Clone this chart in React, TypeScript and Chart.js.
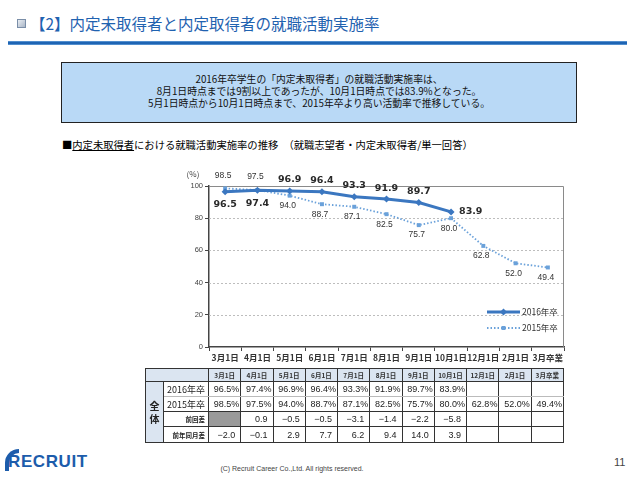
import React, { useEffect, useRef } from 'react';
import { Chart, registerables } from 'chart.js';

Chart.register(...registerables);

const categories = ['3月1日', '4月1日', '5月1日', '6月1日', '7月1日', '8月1日', '9月1日', '10月1日', '12月1日', '2月1日', '3月卒業'];
const series2016: (number | null)[] = [96.5, 97.4, 96.9, 96.4, 93.3, 91.9, 89.7, 83.9, null, null, null];
const series2015: (number | null)[] = [98.5, 97.5, 94.0, 88.7, 87.1, 82.5, 75.7, 80.0, 62.8, 52.0, 49.4];
const diffPrev: (number | null)[] = [null, 0.9, -0.5, -0.5, -3.1, -1.4, -2.2, -5.8, null, null, null];
const diffYear: (number | null)[] = [-2.0, -0.1, 2.9, 7.7, 6.2, 9.4, 14.0, 3.9, null, null, null];
const seriesNames = ['2016年卒', '2015年卒'];
const labelPos2016 = ['below', 'below', 'above', 'above', 'above', 'above', 'above', 'right'];
const labelPos2015 = ['above', 'above', 'below', 'below', 'below', 'below', 'below', 'below', 'below', 'below', 'below'];
const yMin = 0;
const yMax = 100;
const yStep = 20;

const C2016 = '#3b77c0';
const C2015 = '#6aa1da';
const JP = '"Noto Sans CJK JP", "Noto Sans", sans-serif';

const fmtPct = (v: number | null) => (v == null ? '' : v.toFixed(1) + '%');
const fmtDiff = (v: number | null) => (v == null ? '' : (v < 0 ? '−' + Math.abs(v).toFixed(1) : v.toFixed(1)));

const decorPlugin = {
  id: 'decor',
  beforeDatasetsDraw(chart: any) {
    const { ctx, chartArea: a, scales } = chart;
    const y = scales.y;
    ctx.save();
    ctx.strokeStyle = '#bdbdbd';
    ctx.lineWidth = 1;
    ctx.setLineDash([2, 2]);
    for (let v = yMin + yStep; v < yMax; v += yStep) {
      const py = Math.round(y.getPixelForValue(v)) + 0.5;
      ctx.beginPath();
      ctx.moveTo(a.left, py);
      ctx.lineTo(a.right, py);
      ctx.stroke();
    }
    ctx.setLineDash([]);
    ctx.strokeStyle = '#8a8a8a';
    ctx.beginPath();
    ctx.moveTo(a.left, a.top + 0.5);
    ctx.lineTo(a.right - 0.5, a.top + 0.5);
    ctx.lineTo(a.right - 0.5, a.bottom);
    ctx.stroke();
    ctx.fillStyle = '#444';
    ctx.font = '8px ' + JP;
    ctx.textAlign = 'center';
    ctx.textBaseline = 'middle';
    ctx.fillText('(%)', a.left - 16, a.top - 12);
    ctx.restore();
  },
  afterDatasetsDraw(chart: any) {
    const { ctx, chartArea: a } = chart;
    ctx.save();
    const m16 = chart.getDatasetMeta(0);
    const m15 = chart.getDatasetMeta(1);
    ctx.textBaseline = 'middle';
    m16.data.forEach((pt: any, i: number) => {
      const v = series2016[i];
      if (v == null) return;
      const pos = labelPos2016[i];
      ctx.font = 'bold 9.5px "DejaVu Sans", sans-serif';
      ctx.fillStyle = '#2a2a2a';
      if (pos === 'right') {
        ctx.textAlign = 'left';
        ctx.fillText(v.toFixed(1), pt.x + 8, pt.y);
      } else {
        ctx.textAlign = 'center';
        ctx.fillText(v.toFixed(1), pt.x, pos === 'above' ? pt.y - 11 : pt.y + 13);
      }
    });
    m15.data.forEach((pt: any, i: number) => {
      const v = series2015[i];
      if (v == null) return;
      const pos = labelPos2015[i];
      ctx.font = '8.5px "Liberation Sans", Arial, sans-serif';
      ctx.fillStyle = '#333';
      ctx.textAlign = 'center';
      ctx.fillText(v.toFixed(1), pt.x - 2, pos === 'above' ? pt.y - 13 : pt.y + 10);
    });
    // legend
    const lx = a.right - 77;
    const ly1 = a.bottom - 35;
    const ly2 = a.bottom - 19;
    ctx.lineWidth = 3;
    ctx.strokeStyle = C2016;
    ctx.beginPath();
    ctx.moveTo(lx, ly1);
    ctx.lineTo(lx + 33, ly1);
    ctx.stroke();
    ctx.fillStyle = C2016;
    ctx.beginPath();
    ctx.moveTo(lx + 16.5, ly1 - 3.5);
    ctx.lineTo(lx + 20, ly1);
    ctx.lineTo(lx + 16.5, ly1 + 3.5);
    ctx.lineTo(lx + 13, ly1);
    ctx.closePath();
    ctx.fill();
    ctx.lineWidth = 1.8;
    ctx.strokeStyle = C2015;
    ctx.setLineDash([1.5, 2]);
    ctx.beginPath();
    ctx.moveTo(lx, ly2);
    ctx.lineTo(lx + 33, ly2);
    ctx.stroke();
    ctx.setLineDash([]);
    ctx.fillStyle = C2015;
    ctx.fillRect(lx + 14.5, ly2 - 2, 4, 4);
    ctx.fillStyle = '#333';
    ctx.font = '8.5px ' + JP;
    ctx.textAlign = 'left';
    ctx.fillText(seriesNames[0], lx + 35, ly1);
    ctx.fillText(seriesNames[1], lx + 35, ly2);
    ctx.restore();
  },
};

function LineChart() {
  const ref = useRef<HTMLCanvasElement | null>(null);
  useEffect(() => {
    if (!ref.current) return;
    const chart = new Chart(ref.current, {
      type: 'line',
      data: {
        labels: categories,
        datasets: [
          {
            label: seriesNames[0],
            data: series2016,
            borderColor: C2016,
            backgroundColor: C2016,
            borderWidth: 3,
            pointStyle: 'rectRot',
            pointRadius: 3.5,
            pointBorderWidth: 0,
            spanGaps: false,
            order: 0,
          },
          {
            label: seriesNames[1],
            data: series2015,
            borderColor: C2015,
            backgroundColor: C2015,
            borderWidth: 1.8,
            borderDash: [1.5, 2],
            pointStyle: 'rect',
            pointRadius: 2.8,
            pointBorderWidth: 0,
            order: 1,
          },
        ],
      },
      options: {
        responsive: false,
        maintainAspectRatio: false,
        animation: false,
        devicePixelRatio: 1,
        layout: { padding: { left: 0, top: 26, right: 16, bottom: 0 } },
        plugins: { legend: { display: false }, tooltip: { enabled: false }, title: { display: false } },
        scales: {
          x: {
            type: 'category',
            offset: true,
            grid: { offset: true, drawOnChartArea: false, drawTicks: true, tickLength: 4, color: '#444' },
            border: { display: true, color: '#444', width: 1.5 },
            ticks: {
              autoSkip: false,
              maxRotation: 0,
              minRotation: 0,
              padding: 2,
              color: '#333',
              font: { size: 8.5, weight: 'bold', family: JP },
            },
            afterFit: (s: any) => { s.height = 23; },
          },
          y: {
            min: yMin,
            max: yMax,
            grid: { drawOnChartArea: false, drawTicks: true, tickLength: 4, color: '#444' },
            border: { display: true, color: '#444', width: 1.5 },
            ticks: {
              stepSize: yStep,
              padding: 2,
              color: '#444',
              font: { size: 7.5, family: '"Liberation Sans", Arial, sans-serif' },
            },
            afterFit: (s: any) => { s.width = 59; },
          },
        },
      },
      plugins: [decorPlugin],
    } as any);
    return () => chart.destroy();
  }, []);
  return (
    <canvas
      ref={ref}
      width={430}
      height={210}
      style={{ position: 'absolute', left: 150, top: 160, width: 430, height: 210 }}
    />
  );
}

const colW = 355 / 11;

function DataTable() {
  const border = '1px solid #333';
  const light = '1px solid #bbb';
  const hdrBg = '#dbe5f1';
  const cellBase: React.CSSProperties = {
    padding: 0,
    fontFamily: '"Liberation Sans", Arial, ' + JP,
    fontSize: 9,
    color: '#222',
    overflow: 'hidden',
    whiteSpace: 'nowrap',
  };
  return (
    <table
      style={{
        position: 'absolute',
        left: 145,
        top: 368,
        borderCollapse: 'collapse',
        tableLayout: 'fixed',
        width: 18 + 45 + 355,
        border: '1.5px solid #222',
      }}
    >
      <colgroup>
        <col style={{ width: 18 }} />
        <col style={{ width: 45 }} />
        {categories.map((c) => (
          <col key={c} style={{ width: colW }} />
        ))}
      </colgroup>
      <tbody>
        <tr style={{ height: 13 }}>
          <td colSpan={2} style={{ ...cellBase, background: hdrBg, border }} />
          {categories.map((c) => (
            <td
              key={c}
              style={{ ...cellBase, background: hdrBg, border, fontSize: 6.5, fontWeight: 'bold', fontFamily: JP, textAlign: 'center', color: '#333' }}
            >
              {c}
            </td>
          ))}
        </tr>
        <tr style={{ height: 15 }}>
          <td
            rowSpan={4}
            style={{ ...cellBase, background: hdrBg, border, fontFamily: JP, fontWeight: 'bold', fontSize: 10, textAlign: 'center', lineHeight: '13px', whiteSpace: 'normal', color: '#222' }}
          >
            全<br />体
          </td>
          <td style={{ ...cellBase, border, borderBottom: light, fontFamily: JP, textAlign: 'right', paddingRight: 3 }}>{seriesNames[0]}</td>
          {series2016.map((v, i) => (
            <td key={i} style={{ ...cellBase, border, borderBottom: light, textAlign: 'right', paddingRight: 1 }}>
              {fmtPct(v)}
            </td>
          ))}
        </tr>
        <tr style={{ height: 15 }}>
          <td style={{ ...cellBase, border, borderTop: light, fontFamily: JP, textAlign: 'right', paddingRight: 3 }}>{seriesNames[1]}</td>
          {series2015.map((v, i) => (
            <td key={i} style={{ ...cellBase, border, borderTop: light, textAlign: 'right', paddingRight: 1 }}>
              {fmtPct(v)}
            </td>
          ))}
        </tr>
        <tr style={{ height: 15 }}>
          <td style={{ ...cellBase, border, fontFamily: JP, fontSize: 6.5, fontWeight: 'bold', textAlign: 'right', paddingRight: 3 }}>前回差</td>
          {diffPrev.map((v, i) => (
            <td
              key={i}
              style={{ ...cellBase, border, textAlign: 'right', paddingRight: 5, background: i === 0 ? '#9a9a9a' : 'transparent' }}
            >
              {fmtDiff(v)}
            </td>
          ))}
        </tr>
        <tr style={{ height: 16 }}>
          <td style={{ ...cellBase, border, fontFamily: JP, fontSize: 6.5, fontWeight: 'bold', textAlign: 'right', paddingRight: 3 }}>前年同月差</td>
          {diffYear.map((v, i) => (
            <td key={i} style={{ ...cellBase, border, textAlign: 'right', paddingRight: 5 }}>
              {fmtDiff(v)}
            </td>
          ))}
        </tr>
      </tbody>
    </table>
  );
}

export default function App() {
  return (
    <div
      style={{
        position: 'absolute',
        left: 0,
        top: 0,
        width: 638,
        height: 479,
        background: '#fff',
        overflow: 'hidden',
        fontFamily: JP,
      }}
    >
      {/* title */}
      <div
        style={{
          position: 'absolute',
          left: 17,
          top: 19,
          width: 7,
          height: 7,
          border: '1px solid #7a8ea8',
          background: 'linear-gradient(135deg,#e8edf3,#aab6c6)',
        }}
      />
      <div
        style={{
          position: 'absolute',
          left: 30,
          top: 13,
          fontSize: 15.5,
          lineHeight: '20px',
          color: '#1f62b0',
          whiteSpace: 'nowrap',
        }}
      >
        【2】内定未取得者と内定取得者の就職活動実施率
      </div>
      <div style={{ position: 'absolute', left: 8, top: 41, width: 619, height: 4, background: 'linear-gradient(#6fa6dc,#1e64b4 35%,#1e64b4 65%,#6fa6dc)' }} />

      {/* summary box */}
      <div
        style={{
          position: 'absolute',
          left: 61,
          top: 62,
          width: 516,
          height: 61,
          border: '1px solid #222',
          background: '#b9d9f6',
          boxSizing: 'border-box',
        }}
      >
        <div
          style={{
            position: 'absolute',
            left: 0,
            right: 0,
            top: 10,
            textAlign: 'center',
            fontSize: 9.8,
            lineHeight: '12px',
            color: '#111',
          }}
        >
          2016年卒学生の「内定未取得者」の就職活動実施率は、
          <br />
          8月1日時点までは9割以上であったが、10月1日時点では83.9%となった。
          <br />
          5月1日時点から10月1日時点まで、2015年卒より高い活動率で推移している。
        </div>
      </div>

      {/* chart subtitle */}
      <div
        style={{
          position: 'absolute',
          left: 62,
          top: 138,
          fontSize: 10.3,
          lineHeight: '14px',
          color: '#000',
          whiteSpace: 'nowrap',
        }}
      >
        ■<span style={{ textDecoration: 'underline' }}>内定未取得者</span>における就職活動実施率の推移　（就職志望者・内定未取得者/単一回答）
      </div>

      <LineChart />
      <DataTable />

      {/* footer */}
      <div
        style={{
          position: 'absolute',
          left: 5,
          top: 449,
          width: 14,
          height: 22,
          borderLeft: '4px solid #1c5cab',
          borderTop: '4px solid #1c5cab',
          borderTopLeftRadius: 14,
          boxSizing: 'border-box',
        }}
      />
      <div
        style={{
          position: 'absolute',
          left: 8,
          top: 452,
          fontFamily: '"Liberation Sans", Arial, sans-serif',
          fontWeight: 'bold',
          fontSize: 17,
          lineHeight: '20px',
          color: '#1c5cab',
          letterSpacing: 0.6,
        }}
      >
        RECRUIT
      </div>
      <div
        style={{
          position: 'absolute',
          left: 0,
          width: 584,
          top: 465,
          textAlign: 'center',
          fontFamily: '"Liberation Sans", Arial, sans-serif',
          fontSize: 7,
          color: '#444',
        }}
      >
        (C) Recruit Career Co.,Ltd. All rights reserved.
      </div>
      <div
        style={{
          position: 'absolute',
          left: 614,
          top: 456,
          fontFamily: '"Liberation Sans", Arial, sans-serif',
          fontSize: 11,
          color: '#444',
        }}
      >
        11
      </div>
    </div>
  );
}
